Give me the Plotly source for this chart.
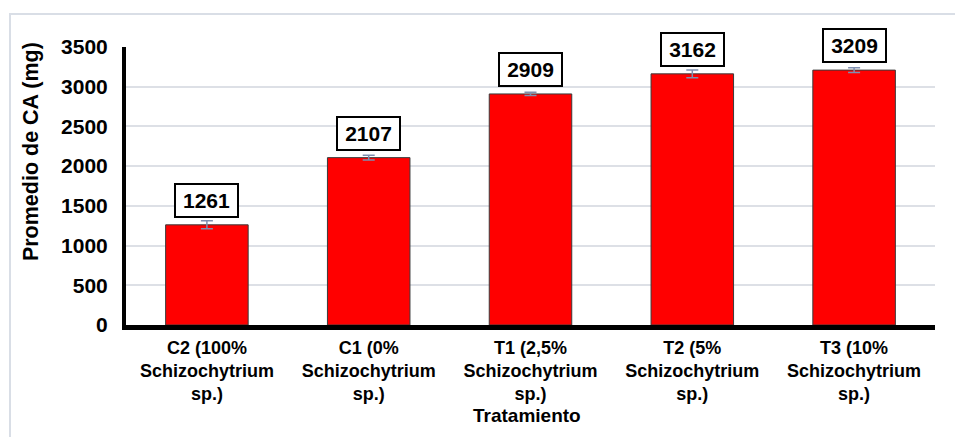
import plotly.graph_objects as go

categories = ["C2 (100%<br>Schizochytrium<br>sp.)", "C1 (0%<br>Schizochytrium<br>sp.)",
              "T1 (2,5%<br>Schizochytrium<br>sp.)", "T2 (5%<br>Schizochytrium<br>sp.)",
              "T3 (10%<br>Schizochytrium<br>sp.)"]
values = [1261, 2107, 2909, 3162, 3209]
errors = [50, 30, 20, 50, 30]
y_ticks = [0, 500, 1000, 1500, 2000, 2500, 3000, 3500]

FONT = "Arial, Liberation Sans, sans-serif"

fig = go.Figure()
fig.add_trace(go.Bar(
    x=categories, y=values,
    marker=dict(color="#ff0000", line=dict(color="#3a3a3a", width=1)),
    error_y=dict(type="data", array=errors, color="#7f8fb0", thickness=1.5, width=6),
    showlegend=False,
))

for c, v in zip(categories, values):
    fig.add_annotation(
        x=c, y=v, xref="x", yref="y", text=f"<b>{v}</b>", showarrow=False,
        yanchor="bottom", yshift=7,
        font=dict(family=FONT, size=21, color="black"),
        bgcolor="white", bordercolor="black", borderwidth=2, borderpad=2,
        width=57, height=27,
    )

fig.add_annotation(
    text="<b>Promedio de CA (mg)</b>", xref="paper", yref="paper",
    x=-0.1174, y=0.622, textangle=-90, showarrow=False,
    xanchor="center", yanchor="middle",
    font=dict(family=FONT, size=21.5, color="black"),
)
fig.add_annotation(
    text="<b>Tratamiento</b>", xref="paper", yref="paper",
    x=0.4957, y=-0.324, showarrow=False, xanchor="center", yanchor="middle",
    font=dict(family=FONT, size=19, color="black"),
)

fig.add_shape(type="rect", xref="paper", yref="paper",
              x0=-0.1434, x1=1.031, y0=-0.414, y1=1.1187,
              line=dict(color="#d9dee6", width=2), fillcolor="rgba(0,0,0,0)", layer="below")

fig.update_layout(
    width=955, height=437,
    margin=dict(l=126, r=20, t=47, b=112),
    paper_bgcolor="white", plot_bgcolor="white",
    bargap=0.49,
    font=dict(family=FONT, color="black"),
)
fig.update_xaxes(
    automargin=False,
    showline=True, linecolor="black", linewidth=5,
    tickfont=dict(family=FONT, size=18, color="black"),
    tickprefix="<b>", ticksuffix="</b>",
    ticks="", ticklabelstandoff=2,
)
fig.update_yaxes(
    automargin=False,
    range=[0, 3500], tickvals=y_ticks,
    ticktext=[f"<b>{t}</b>" for t in y_ticks],
    showline=True, linecolor="black", linewidth=4,
    showgrid=True, gridcolor="#dde0e6", gridwidth=1.5,
    zeroline=False,
    tickfont=dict(family=FONT, size=21, color="black"),
    ticks="", ticklabelstandoff=10,
)

fig.write_html("out.html",
               config={"displayModeBar": False},
               post_script="document.body.style.margin='0';document.body.style.padding='0';")
